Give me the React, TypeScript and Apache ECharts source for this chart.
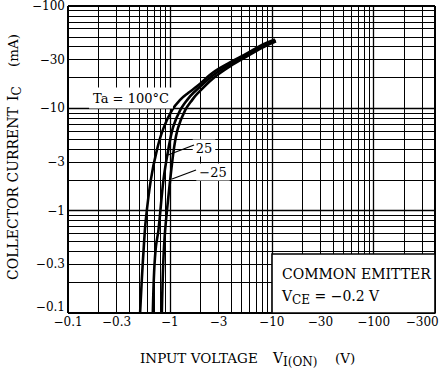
import React, { useEffect, useRef } from "react";
import * as echarts from "echarts";

// ---- data (magnitudes; the datasheet shows them with a minus sign) ----
const xTickValues = [0.1, 0.3, 1, 3, 10, 30, 100, 300];
const xTickLabels = ["−0.1", "−0.3", "−1", "−3", "−10", "−30", "−100", "−300"];
const yTickValues = [0.1, 0.3, 1, 3, 10, 30, 100];
const yTickLabels = ["−0.1", "−0.3", "−1", "−3", "−10", "−30", "−100"];

const xGridValues = [
  0.1, 0.2, 0.3, 0.4, 0.5, 0.6, 0.7, 0.8, 0.9,
  1, 2, 3, 4, 5, 6, 7, 8, 9,
  10, 20, 30, 40, 50, 60, 70, 80, 90,
  100, 200, 300, 400,
];
const yGridValues = [
  0.1, 0.2, 0.3, 0.4, 0.5, 0.6, 0.7, 0.8, 0.9,
  1, 2, 3, 4, 5, 6, 7, 8, 9,
  10, 20, 30, 40, 50, 60, 70, 80, 90,
  100,
];
const decadeValues = [0.1, 1, 10, 100];
const xMin = 0.1;
const xMax = 400;
const yMin = 0.1;
const yMax = 100;

const seriesNames = ["Ta = 100°C", "25", "−25"];

// Ta = 100 °C
const vin100 = [0.51, 0.53, 0.555, 0.58, 0.65, 0.745, 0.86, 1.05, 1.26, 1.51, 1.845, 2.65, 3.89, 5.71, 8.2, 10.75];
const ic100 = [0.1, 0.21, 0.45, 0.81, 2.0, 3.9, 6.3, 9.6, 12.1, 14.1, 16.4, 22.4, 28.1, 34.4, 42.1, 47.2];
// Ta = 25 °C
const vin25 = [0.68, 0.7, 0.73, 0.773, 0.865, 0.962, 1.077, 1.263, 1.48, 1.695, 2.65, 3.89, 5.71, 8.2, 10.9];
const ic25 = [0.1, 0.25, 0.45, 0.65, 2.0, 3.9, 6.6, 9.6, 12.1, 14.1, 21.0, 26.9, 33.3, 40.7, 46.1];
// Ta = -25 °C
const vinM25 = [0.834, 0.86, 0.899, 1.007, 1.102, 1.2, 1.414, 1.657, 1.86, 2.65, 3.89, 5.71, 8.2, 11.0];
const icM25 = [0.1, 0.3, 0.65, 2.0, 4.2, 6.4, 9.6, 12.1, 13.9, 19.6, 25.7, 32.2, 39.4, 45.1];

const FONT = "'DejaVu Serif', 'Liberation Serif', serif";

function pairs(xs: number[], ys: number[]) {
  return xs.map((x, i) => [x, ys[i]]);
}

function buildOption() {
  const gridLines: any[] = [];
  xGridValues.forEach((v) => {
    const idx = xTickValues.indexOf(v);
    const border = v === xMin || v === xMax;
    gridLines.push({
      xAxis: v,
      lineStyle: {
        color: "#000",
        type: "solid",
        width: border ? 2 : decadeValues.includes(v) ? 1.3 : 1,
      },
      label:
        idx >= 0
          ? {
              show: true,
              position: "start",
              formatter: xTickLabels[idx],
              color: "#000",
              fontFamily: FONT,
              fontSize: 12,
              lineHeight: 12,
              distance: 3,
            }
          : { show: false },
    });
  });
  yGridValues.forEach((v) => {
    const idx = yTickValues.indexOf(v);
    const border = v === yMin || v === yMax;
    const lbl: any = {
      show: true,
      position: "start",
      formatter: yTickLabels[idx],
      color: "#000",
      fontFamily: FONT,
      fontSize: 12,
      lineHeight: 12,
      distance: 3,
    };
    if (v === yMin) lbl.verticalAlign = "bottom";
    gridLines.push({
      yAxis: v,
      lineStyle: {
        color: "#000",
        type: "solid",
        width: border ? 2 : decadeValues.includes(v) ? 1.3 : 1,
      },
      label: idx >= 0 ? lbl : { show: false },
    });
  });

  const curveStyle = {
    type: "line",
    showSymbol: false,
    symbol: "none",
    smooth: 0.35,
    silent: true,
    lineStyle: { color: "#000", width: 2.6 },
    z: 10,
  };

  const subRich = {
    m: { fontSize: 14, fontFamily: FONT, color: "#000", lineHeight: 20, verticalAlign: "middle" },
    s: { fontSize: 12, fontFamily: FONT, color: "#000", lineHeight: 12, verticalAlign: "bottom" },
  };

  return {
    animation: false,
    backgroundColor: "#fff",
    grid: { left: 68, right: 11, top: 6, bottom: 59, show: false },
    xAxis: {
      type: "log",
      logBase: 10,
      min: xMin,
      max: xMax,
      axisLine: { show: false },
      axisTick: { show: false },
      axisLabel: { show: false },
      splitLine: { show: false },
    },
    yAxis: {
      type: "log",
      logBase: 10,
      min: yMin,
      max: yMax,
      axisLine: { show: false },
      axisTick: { show: false },
      axisLabel: { show: false },
      splitLine: { show: false },
    },
    series: [
      {
        ...curveStyle,
        name: seriesNames[0],
        data: pairs(vin100, ic100),
        markLine: {
          silent: true,
          animation: false,
          symbol: ["none", "none"],
          label: { show: false },
          emphasis: { disabled: true },
          z: 3,
          data: gridLines,
        },
      },
      { ...curveStyle, name: seriesNames[1], data: pairs(vin25, ic25) },
      { ...curveStyle, name: seriesNames[2], data: pairs(vinM25, icM25) },
    ],
    graphic: [
      // curve labels
      {
        type: "text",
        z: 100,
        x: 131,
        y: 98,
        style: {
          text: seriesNames[0],
          fontFamily: FONT,
          fontSize: 13,
          fill: "#000",
          align: "center",
          verticalAlign: "middle",
          backgroundColor: "#fff",
          padding: [4, 4],
        },
      },
      {
        type: "text",
        z: 100,
        x: 204,
        y: 148,
        style: {
          text: seriesNames[1],
          fontFamily: FONT,
          fontSize: 13,
          fill: "#000",
          align: "center",
          verticalAlign: "middle",
          backgroundColor: "#fff",
          padding: [2, 3],
        },
      },
      {
        type: "text",
        z: 100,
        x: 213,
        y: 172,
        style: {
          text: seriesNames[2],
          fontFamily: FONT,
          fontSize: 13,
          fill: "#000",
          align: "center",
          verticalAlign: "middle",
          backgroundColor: "#fff",
          padding: [2, 3],
        },
      },
      {
        type: "line",
        z: 101,
        shape: { x1: 194, y1: 145, x2: 168, y2: 155 },
        style: { stroke: "#000", lineWidth: 1.3 },
      },
      {
        type: "line",
        z: 101,
        shape: { x1: 196, y1: 170, x2: 172, y2: 179 },
        style: { stroke: "#000", lineWidth: 1.3 },
      },
      // condition box
      {
        type: "rect",
        z: 100,
        shape: { x: 272, y: 254, width: 163, height: 59 },
        style: { fill: "#fff", stroke: "#000", lineWidth: 1.6 },
      },
      {
        type: "text",
        z: 101,
        x: 282,
        y: 274,
        style: {
          text: "COMMON EMITTER",
          fontFamily: FONT,
          fontSize: 14,
          fill: "#000",
          align: "left",
          verticalAlign: "middle",
        },
      },
      {
        type: "text",
        z: 101,
        x: 282,
        y: 296,
        style: {
          text: "{m|V}{s|CE}{m| = −0.2 V}",
          rich: subRich,
          align: "left",
          verticalAlign: "middle",
        },
      },
      // x axis title
      {
        type: "text",
        z: 101,
        x: 140,
        y: 358,
        style: {
          text: "INPUT VOLTAGE",
          fontFamily: FONT,
          fontSize: 13.5,
          fill: "#000",
          align: "left",
          verticalAlign: "middle",
        },
      },
      {
        type: "text",
        z: 101,
        x: 273,
        y: 358,
        style: {
          text: "{m|V}{s|I(ON)}",
          rich: subRich,
          align: "left",
          verticalAlign: "middle",
        },
      },
      {
        type: "text",
        z: 101,
        x: 335,
        y: 358,
        style: {
          text: "(V)",
          fontFamily: FONT,
          fontSize: 13.5,
          fill: "#000",
          align: "left",
          verticalAlign: "middle",
        },
      },
      // y axis title (rotated)
      {
        type: "text",
        z: 101,
        x: 13,
        y: 280,
        rotation: Math.PI / 2,
        style: {
          text: "COLLECTOR CURRENT",
          fontFamily: FONT,
          fontSize: 14,
          fill: "#000",
          align: "left",
          verticalAlign: "middle",
        },
      },
      {
        type: "text",
        z: 101,
        x: 13,
        y: 101,
        rotation: Math.PI / 2,
        style: {
          text: "{m|I}{s|C}",
          rich: subRich,
          align: "left",
          verticalAlign: "middle",
        },
      },
      {
        type: "text",
        z: 101,
        x: 13,
        y: 67,
        rotation: Math.PI / 2,
        style: {
          text: "(mA)",
          fontFamily: FONT,
          fontSize: 13.5,
          fill: "#000",
          align: "left",
          verticalAlign: "middle",
        },
      },
    ],
  };
}

export default function App() {
  const ref = useRef<HTMLDivElement>(null);
  useEffect(() => {
    document.body.style.margin = "0";
    const chart = echarts.init(ref.current as HTMLDivElement, null, { renderer: "svg" });
    chart.setOption(buildOption() as any);
    return () => chart.dispose();
  }, []);
  return <div ref={ref} style={{ width: 446, height: 372 }} />;
}
